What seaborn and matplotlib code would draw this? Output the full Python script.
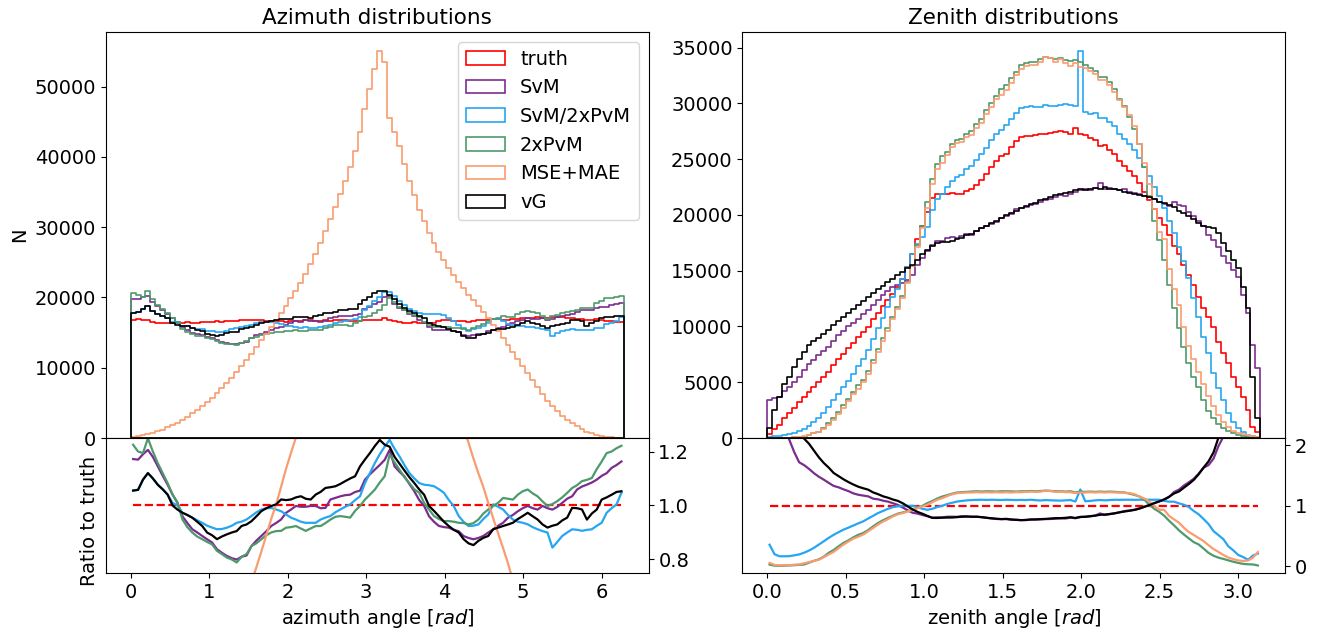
import numpy as np
import matplotlib
matplotlib.use("Agg")
import matplotlib.pyplot as plt
import seaborn as sns

plt.rcParams['font.family'] = ['DejaVu Sans']
plt.rcParams['font.size'] = 14

series_names = ["truth", "SvM", "SvM/2xPvM", "2xPvM", "MSE+MAE", "vG"]
series_colors = ["#ff0000", "#7b2d8e", "#26a6f2", "#4f9a6c", "#f99c70", "#000000"]

# ---------------- azimuth histograms (100 bins over 0..2pi) ----------------
az_truth = [16850, 16900, 16800, 16750, 16450, 16400, 16350, 16420, 16380, 16350,
            16400, 16450, 16380, 16420, 16500, 16460, 16520, 16600, 16550, 16650,
            16700, 16680, 16750, 16800, 16720, 16780, 16750, 16700, 16620, 16680,
            16600, 16550, 16620, 16700, 16650, 16800, 16720, 16650, 16700, 16750,
            16680, 16720, 16800, 16750, 16700, 16620, 16700, 16800, 16750, 16850,
            16800, 17100, 16750, 16700, 16500, 16420, 16380, 16450, 16400, 16350,
            16380, 16420, 16600, 16750, 16800, 16650, 16700, 16600, 16550, 16700,
            16800, 16750, 16850, 16900, 16950, 16850, 16800, 16900, 16950, 17000,
            17050, 17100, 17150, 17100, 17000, 17200, 17250, 17200, 17100, 17000,
            16900, 16950, 16850, 16800, 16900, 16750, 16700, 16600, 16550, 16500]
az_svm = [19750, 19770, 19990, 20200, 19410, 18780, 18150, 17680, 17040, 16510,
          15740, 15380, 14940, 14780, 14640, 14400, 14260, 13910, 13650, 13540,
          13440, 13340, 13570, 13690, 14210, 14600, 14860, 15110, 15360, 15600,
          15740, 16100, 16370, 16670, 16570, 16720, 16690, 16620, 16530, 16600,
          17050, 17190, 17370, 17390, 17370, 17450, 17620, 18410, 18680, 19090,
          19320, 19990, 20200, 19120, 18560, 18190, 17690, 17320, 16730, 16320,
          15720, 15430, 15340, 15410, 15420, 15150, 15110, 14720, 14560, 14610,
          14780, 14860, 15160, 15410, 15680, 15770, 16040, 16310, 16590, 16830,
          17020, 16930, 16890, 17070, 16830, 16940, 17160, 17370, 17530, 17580,
          17900, 18140, 18150, 18230, 18520, 18590, 18700, 18910, 19030, 19190]
az_svm2 = [17780, 17880, 18410, 18760, 18100, 17660, 17330, 17080, 16540, 16350,
           15960, 15870, 15640, 15520, 15440, 15230, 15170, 15140, 15110, 15280,
           15450, 15610, 15750, 15930, 16070, 16360, 16500, 16530, 16470, 16430,
           16250, 16000, 15870, 15830, 15650, 15720, 15650, 15580, 15830, 16000,
           16030, 16300, 16550, 16670, 16770, 16950, 17270, 18190, 18760, 19500,
           19990, 20830, 20820, 20210, 19500, 18880, 18350, 18100, 17760, 17610,
           17610, 17590, 17600, 17540, 17140, 16620, 16050, 15600, 15290, 15450,
           15620, 15910, 16290, 16970, 16870, 16600, 16210, 16020, 15930, 15910,
           15860, 15730, 15640, 15480, 15300, 14520, 14920, 15260, 15390, 15500,
           15380, 15360, 15330, 15320, 15630, 15680, 16250, 16430, 16620, 17280]
az_pvm = [20640, 20280, 20060, 20920, 19740, 18970, 18310, 17780, 17040, 16510,
          15550, 15130, 14740, 14530, 14440, 14240, 14140, 13810, 13570, 13440,
          13360, 13160, 13570, 13780, 14210, 14430, 14660, 14860, 14960, 15100,
          15040, 15190, 15290, 15430, 15230, 15220, 15300, 15380, 15430, 15660,
          15810, 16020, 16140, 16050, 15950, 16290, 16670, 17170, 17420, 17840,
          18230, 18950, 19900, 19370, 18690, 18140, 17740, 17440, 17170, 16510,
          16130, 15780, 15770, 15780, 15830, 15650, 15630, 15520, 15390, 15610,
          15930, 16250, 16600, 16870, 17120, 17320, 17220, 17270, 17630, 17900,
          18060, 17870, 17730, 17360, 16970, 17290, 17530, 17720, 17900, 18100,
          18170, 18480, 18450, 18510, 19180, 19480, 19940, 19920, 20060, 20150]
az_mse = [150, 250, 370, 530, 720, 950, 1200, 1500, 1850, 2200,
          2600, 3050, 3500, 4000, 4550, 5100, 5700, 6350, 7050, 7800,
          8550, 9400, 10250, 11100, 12000, 12950, 13900, 14850, 15800, 16750,
          17750, 18800, 19850, 20900, 22100, 23300, 24700, 26200, 27800, 29400,
          31100, 32900, 34700, 36600, 38600, 40800, 43500, 46800, 49700, 52500,
          55000, 53500, 45500, 43500, 41500, 39000, 36500, 34500, 32500, 30800,
          29200, 27800, 26500, 25300, 24200, 23200, 22200, 21300, 20400, 19600,
          18800, 17900, 17000, 16100, 15200, 14200, 13200, 12200, 11200, 10200,
          9200, 8200, 7200, 6200, 5300, 4500, 3800, 3150, 2600, 2100,
          1650, 1250, 900, 650, 430, 280, 170, 100, 60, 30]
az_vg = [17780, 17880, 18410, 18760, 18100, 17660, 17330, 17080, 16380, 16100,
         15960, 15870, 15640, 15430, 15250, 14810, 14700, 14530, 14650, 14870,
         15030, 15100, 15480, 15620, 15750, 16110, 16400, 16530, 16590, 16750,
         16970, 16880, 16990, 17200, 17220, 17220, 17090, 17320, 17540, 17840,
         17810, 17910, 18140, 18260, 18370, 18420, 19120, 19660, 20000, 20560,
         20880, 20950, 20400, 19710, 19060, 18550, 18100, 17820, 17380, 17000,
         16350, 16090, 15940, 15750, 15520, 15150, 15030, 14530, 14230, 14250,
         14600, 14740, 14950, 15410, 15560, 15570, 15620, 15820, 16100, 16340,
         16590, 16420, 16260, 15900, 15610, 15910, 16040, 16250, 16330, 16850,
         16730, 16700, 15970, 16300, 16650, 17120, 17200, 17260, 17380, 17370]

# ---------------- zenith histograms (100 bins over 0..pi) ----------------
zen_truth = [350, 850, 1200, 1750, 2200, 2650, 3200, 3650, 4100, 4550,
             5000, 5450, 5950, 6550, 7050, 7550, 8050, 8550, 9050, 9500,
             9950, 10650, 11200, 11800, 12350, 12950, 13500, 14300, 15350, 16500,
             17800, 19000, 20300, 21500, 21900, 21900, 21850, 21950, 21900, 21850,
             22150, 22300, 22700, 23150, 23700, 24300, 24800, 25250, 25500, 26100,
             26600, 27000, 27100, 27100, 27200, 27300, 27300, 27350, 27400, 27500,
             27450, 27250, 27800, 27300, 27200, 26900, 26750, 26200, 26300, 25850,
             25450, 24850, 24400, 23950, 23500, 22850, 22050, 21330, 20500, 19750,
             19080, 18180, 17200, 16500, 15550, 14630, 13730, 12680, 11640, 10890,
             9990, 8650, 7600, 6700, 5500, 4610, 3710, 2510, 1010, 570]
zen_svm = [3400, 3550, 3700, 4200, 4600, 5000, 5500, 6100, 6600, 7000,
           7400, 7800, 8200, 8700, 9200, 9600, 10000, 10300, 10700, 11100,
           11500, 11900, 12400, 12800, 13200, 13500, 13700, 13900, 14200, 14600,
           15500, 16100, 16800, 17300, 17700, 17700, 17900, 18000, 17900, 18100,
           18300, 18200, 18600, 18800, 19000, 19200, 19400, 19700, 19900, 20100,
           20500, 20600, 20700, 20900, 21000, 21200, 21300, 21400, 21600, 21800,
           21700, 21900, 22100, 22200, 22300, 22200, 22400, 22900, 22300, 22400,
           22300, 22200, 22300, 22100, 22000, 21900, 21700, 21600, 21400, 21200,
           21000, 20800, 21120, 20910, 20760, 20310, 19870, 19420, 18970, 18220,
           17770, 17170, 16280, 15680, 15080, 14480, 12800, 11190, 8350, 6250]
zen_svm2 = [125, 170, 200, 290, 370, 480, 630, 820, 1070, 1390,
            1800, 2260, 2800, 3410, 3980, 4580, 5150, 5770, 6430, 7060,
            7860, 8890, 9860, 10800, 11730, 12670, 13370, 14300, 15350, 16500,
            17440, 18050, 18960, 20430, 21460, 21900, 22510, 23050, 23430, 23600,
            24140, 24420, 24920, 25470, 26000, 26730, 27230, 27650, 28050, 28630,
            29130, 29620, 29670, 29810, 29700, 29700, 29890, 29810, 29810, 29840,
            29920, 29840, 29750, 34670, 29240, 29050, 29160, 28690, 28670, 28310,
            28000, 27290, 26840, 26350, 25800, 25140, 24260, 23460, 22550, 21730,
            20620, 19420, 18370, 17170, 15830, 14330, 12540, 10890, 9090, 7600,
            5810, 4460, 3410, 2220, 1460, 870, 570, 270, 180, 120]
zen_pvm = [10, 10, 10, 20, 30, 50, 80, 110, 250, 410,
           580, 870, 1330, 1770, 2330, 2930, 3460, 4100, 4710, 5230,
           5970, 7030, 8020, 8970, 9880, 10830, 11750, 12730, 13970, 15410,
           17270, 19000, 21190, 23220, 24530, 25250, 25670, 26340, 26700, 26770,
           27240, 27540, 28150, 28590, 29390, 30080, 30630, 31310, 31620, 32310,
           32850, 33480, 33600, 33740, 33730, 33990, 34130, 34050, 33980, 34100,
           33900, 33790, 33920, 33720, 33460, 33220, 32900, 32360, 32350, 31920,
           31300, 30440, 29740, 28740, 27730, 26350, 24260, 21670, 19480, 17780,
           15970, 13680, 11640, 9820, 8180, 6750, 5490, 4580, 3410, 2420,
           1750, 1240, 930, 660, 420, 260, 150, 85, 32, 8]
zen_mse = [20, 20, 20, 35, 40, 70, 100, 180, 290, 410,
           550, 820, 1170, 1570, 2120, 2720, 3300, 3930, 4430, 4990,
           5770, 6760, 7730, 8730, 9630, 10680, 11610, 12580, 13890, 15410,
           17090, 18810, 20620, 22790, 24090, 24660, 25350, 26120, 26460, 26550,
           27020, 27210, 27810, 28240, 29030, 29650, 30380, 30800, 31240, 31840,
           32590, 33080, 33330, 33470, 33460, 33720, 34130, 34050, 33700, 33960,
           33630, 33380, 33640, 33310, 33180, 32950, 32640, 32100, 32090, 31670,
           31050, 30320, 29650, 28980, 27970, 26350, 24700, 22820, 20500, 18450,
           17800, 15150, 13340, 11900, 9920, 8290, 7120, 5920, 4860, 3800,
           2850, 2060, 1430, 980, 650, 450, 330, 240, 145, 134]
zen_vg = [900, 2500, 3700, 4800, 5500, 6400, 7100, 7700, 8300, 8700,
          9000, 9300, 9700, 10100, 10500, 10850, 11200, 11550, 11900, 12250,
          12600, 13000, 13350, 13650, 14000, 14300, 14600, 14900, 15200, 15500,
          16000, 16500, 16900, 17200, 17500, 17600, 17600, 17700, 17800, 17900,
          18200, 18300, 18600, 18800, 19000, 19300, 19500, 19700, 20000, 20200,
          20400, 20600, 20800, 21000, 21100, 21300, 21400, 21600, 21800, 21900,
          22000, 22100, 22200, 22300, 22250, 22300, 22400, 22300, 22500, 22300,
          22300, 22200, 22100, 22000, 21900, 21800, 21700, 21600, 21400, 21200,
          21100, 20900, 20700, 20400, 20200, 19900, 19600, 19300, 19000, 18900,
          18800, 18370, 17470, 16730, 15980, 15230, 13580, 11640, 5500, 1770]

az_series = [az_truth, az_svm, az_svm2, az_pvm, az_mse, az_vg]
zen_series = [zen_truth, zen_svm, zen_svm2, zen_pvm, zen_mse, zen_vg]

n_bins = 100
az_edges = np.linspace(0, 2 * np.pi, n_bins + 1)
zen_edges = np.linspace(0, np.pi, n_bins + 1)

fig = plt.figure(figsize=(13.2, 6.33), dpi=100)
gs = fig.add_gridspec(2, 2, height_ratios=[406, 135], left=0.0803, right=0.9735,
                      top=0.9494, bottom=0.0948, wspace=0.173, hspace=0)
ax_az = fig.add_subplot(gs[0, 0])
ax_azr = fig.add_subplot(gs[1, 0], sharex=ax_az)
ax_zen = fig.add_subplot(gs[0, 1])
ax_zenr = fig.add_subplot(gs[1, 1], sharex=ax_zen)


def draw(ax, axr, edges, series):
    centers = 0.5 * (edges[:-1] + edges[1:])
    truth = np.asarray(series[0], dtype=float)
    bin_list = [float(e) for e in edges]
    for name, vals, col in zip(series_names, series, series_colors):
        sns.histplot(x=centers, weights=np.asarray(vals, dtype=float), bins=bin_list,
                     element="step", fill=True, color=col, facecolor="none",
                     edgecolor=col, linewidth=1.2, label=name, ax=ax)
    for name, vals, col in zip(series_names, series, series_colors):
        ratio = np.asarray(vals, dtype=float) / truth
        sns.lineplot(x=centers, y=ratio, color=col, linewidth=1.6,
                     linestyle="--" if name == "truth" else "-",
                     legend=False, ax=axr)
    span = edges[-1] - edges[0]
    ax.set_xlim(edges[0] - 0.05 * span, edges[-1] + 0.05 * span)
    ax.tick_params(labelbottom=False)
    axr.yaxis.tick_right()
    axr.yaxis.set_label_position("left")
    ax.set_ylabel("")
    axr.set_ylabel("")


draw(ax_az, ax_azr, az_edges, az_series)
draw(ax_zen, ax_zenr, zen_edges, zen_series)

ax_az.set_title("Azimuth distributions", fontsize=15.5)
ax_zen.set_title("Zenith distributions", fontsize=15.5)
ax_az.set_ylabel("N")
ax_az.legend(loc="upper right")

ax_azr.set_ylim(0.75, 1.25)
ax_azr.set_yticks([0.8, 1.0, 1.2])
ax_zenr.set_ylim(-0.11, 2.12)
ax_zenr.set_yticks([0, 1, 2])

ax_azr.set_xlabel("azimuth angle [$rad$]")
ax_zenr.set_xlabel("zenith angle [$rad$]")
ax_azr.set_ylabel("Ratio to truth")
ax_azr.yaxis.set_label_coords(-0.012, 0.385)

fig.savefig("out.png", dpi=100)
